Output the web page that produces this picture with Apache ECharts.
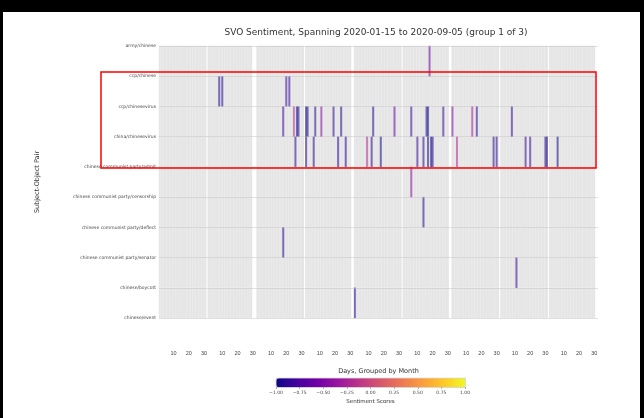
<!DOCTYPE html>
<html>
<head>
<meta charset="utf-8">
<script src="https://cdn.jsdelivr.net/npm/echarts@6/dist/echarts.min.js"></script>
<style>
    html, body { margin: 0; padding: 0; background: #000; }
    #chart {
        width: 644px; height: 418px; background: #fff;
        box-shadow: inset 0 12px 0 0 #000, inset 3px 0 0 0 #000, inset -4px 0 0 0 #000;
    }
</style>
</head>
<body>
<div id="chart"></div>
<script>
// months shown, Jan..Sep 2020, each month gets a 32 day slot
const monthNames = ['Jan', 'Feb', 'Mar', 'Apr', 'May', 'Jun', 'Jul', 'Aug', 'Sep'];
const daysInMonth = [31, 29, 31, 30, 31, 30, 31, 31, 30];
const slotDays = 32;
const tickDays = [10, 20, 30];

// labels sit on the row borders (10 labels for 9 rows)
const pairLabels = [
    'army/chinese',
    'ccp/chinese',
    'ccp/chinesevirus',
    'china/chinesevirus',
    'chinese communist party/admit',
    'chinese communist party/censorship',
    'chinese communist party/deflect',
    'chinese communist party/senator',
    'chinese/boycott',
    'chinese/event'
];

const plasma = ['#0d0887', '#46039f', '#7201a8', '#9c179e', '#bd3786',
    '#d8576b', '#ed7953', '#fb9f3a', '#fdca26', '#f0f921'];

// [month, day, score]
const armyChinese = [[6, 18, -0.6]];
const ccpChinese = [[2, 8, -0.95], [2, 10, -0.9], [3, 20, -0.85], [3, 22, -0.85]];
const ccpChinesevirus = [
    [3, 18, -0.8], [3, 25, -0.15], [3, 27, -1], [3, 28, -0.95],
    [4, 1, -1], [4, 2, -0.95], [4, 7, -0.9], [4, 11, -0.45], [4, 19, -0.9], [4, 24, -0.9],
    [5, 13, -0.9], [5, 27, -0.65],
    [6, 6, -0.85], [6, 16, -1], [6, 17, -0.95], [6, 27, -0.85],
    [7, 1, -0.5], [7, 14, -0.3], [7, 17, -0.9],
    [8, 8, -0.85]
];
const chinaChinesevirus = [
    [3, 26, -0.9],
    [4, 1, -0.9], [4, 6, -0.9], [4, 22, -0.9], [4, 27, -0.9],
    [5, 9, -0.2], [5, 12, -0.9], [5, 18, -1],
    [6, 10, -0.85], [6, 14, -0.9], [6, 17, -0.95], [6, 19, -1], [6, 20, -0.95],
    [7, 4, -0.2], [7, 28, -0.9], [7, 30, -0.9],
    [8, 17, -0.85], [8, 20, -0.85], [8, 30, -0.95], [8, 31, -0.9],
    [9, 6, -1]
];
const cpAdmit = [[6, 6, -0.45]];
const cpCensorship = [[6, 14, -0.95]];
const cpDeflect = [[3, 18, -0.9]];
const cpSenator = [[8, 11, -0.85]];
const chineseBoycott = [[5, 1, -0.9]];

const rows = [armyChinese, ccpChinese, ccpChinesevirus, chinaChinesevirus,
    cpAdmit, cpCensorship, cpDeflect, cpSenator, chineseBoycott];

let xCats = [];
let bgCells = [];
let scoreCells = [];

monthNames.forEach(function (name, m) {
    for (let d = 1; d <= slotDays; d++) {
        xCats.push(name + ' ' + d);
        if (d <= daysInMonth[m]) {
            for (let r = 0; r < rows.length; r++) {
                bgCells.push([m * slotDays + d - 1, r, 0]);
            }
        }
    }
});

rows.forEach(function (list, r) {
    list.forEach(function (p) {
        scoreCells.push([(p[0] - 1) * slotDays + p[1] - 1, r, p[2]]);
    });
});

let myChart = echarts.init(document.getElementById('chart'));

let option = {
    animation: false,
    textStyle: {fontFamily: 'DejaVu Sans'},
    title: {
        text: 'SVO Sentiment, Spanning 2020-01-15 to 2020-09-05 (group 1 of 3)',
        left: 371,
        top: 23,
        textAlign: 'center',
        textStyle: {fontSize: 9, fontWeight: 'normal', color: '#333'}
    },
    grid: [
        {left: 159, top: 46, width: 439, height: 272},
        {left: 276, top: 378, width: 189, height: 9}
    ],
    xAxis: [
        {
            type: 'category',
            gridIndex: 0,
            data: xCats,
            axisLine: {show: false},
            axisTick: {show: false},
            axisLabel: {
                interval: function (idx) {
                    return tickDays.indexOf(idx % slotDays + 1) >= 0;
                },
                formatter: function (v) {
                    return v.split(' ')[1];
                },
                fontSize: 5.5,
                fontFamily: 'Liberation Sans',
                color: '#444',
                margin: 32
            },
            splitLine: {show: false},
            name: 'Days, Grouped by Month',
            nameLocation: 'middle',
            nameGap: 50,
            nameTextStyle: {fontSize: 6.5, color: '#333'}
        },
        {
            type: 'value',
            gridIndex: 1,
            min: -1,
            max: 1,
            interval: 0.25,
            axisLine: {show: false},
            axisTick: {show: true, length: 2, lineStyle: {color: '#666', width: 0.5}},
            axisLabel: {
                fontSize: 4.5,
                color: '#444',
                margin: 3,
                formatter: function (v) {
                    return v.toFixed(2).replace('-', '\u2212');
                }
            },
            splitLine: {show: false},
            name: 'Sentiment Scores',
            nameLocation: 'middle',
            nameGap: 12,
            nameTextStyle: {fontSize: 5.5, color: '#333'}
        }
    ],
    yAxis: [
        {
            type: 'category',
            gridIndex: 0,
            data: pairLabels.slice(0, rows.length),
            inverse: true,
            axisLine: {show: false},
            axisTick: {show: false},
            axisLabel: {show: false},
            splitLine: {show: false}
        },
        {
            type: 'value',
            gridIndex: 0,
            min: 0,
            max: rows.length,
            interval: 1,
            inverse: true,
            position: 'left',
            z: 10,
            axisLine: {show: false},
            axisTick: {show: false},
            axisLabel: {
                fontSize: 4.5,
                color: '#444',
                margin: 3,
                formatter: function (v) {
                    return pairLabels[v];
                }
            },
            splitLine: {show: true, lineStyle: {color: 'rgba(190,190,190,0.45)', width: 1}},
            name: 'Subject-Object Pair',
            nameLocation: 'middle',
            nameRotate: 90,
            nameGap: 118,
            nameTextStyle: {fontSize: 6.5, color: '#333'}
        },
        {
            type: 'category',
            gridIndex: 1,
            data: [''],
            show: false
        }
    ],
    visualMap: {
        type: 'continuous',
        seriesIndex: 1,
        min: -1,
        max: 1,
        orient: 'horizontal',
        left: 276,
        top: 378,
        itemWidth: 9,
        itemHeight: 189,
        padding: 0,
        calculable: false,
        hoverLink: false,
        text: null,
        borderColor: '#999',
        borderWidth: 0.5,
        inRange: {color: plasma}
    },
    series: [
        {
            name: 'days',
            type: 'heatmap',
            xAxisIndex: 0,
            yAxisIndex: 0,
            data: bgCells,
            itemStyle: {color: '#e4e4e4', borderColor: 'rgba(255,255,255,0.55)', borderWidth: 0.3},
            emphasis: {disabled: true},
            silent: true
        },
        {
            name: 'Sentiment Scores',
            type: 'heatmap',
            xAxisIndex: 0,
            yAxisIndex: 0,
            data: scoreCells,
            itemStyle: {opacity: 0.55},
            emphasis: {disabled: true},
            silent: true
        }
    ],
    graphic: [
        {
            type: 'rect',
            shape: {x: 101, y: 72, width: 495, height: 96},
            style: {fill: 'none', stroke: '#ff0000', lineWidth: 1.5},
            z: 100
        }
    ]
};

myChart.setOption(option);
</script>
</body>
</html>
